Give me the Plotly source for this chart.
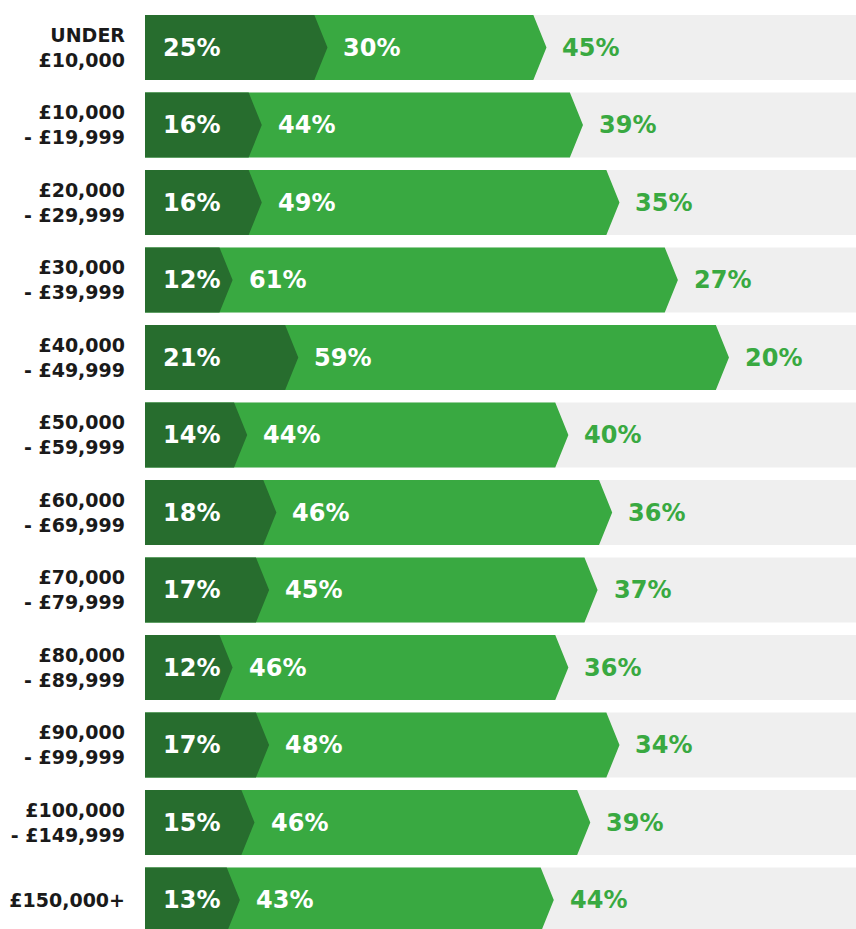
import plotly.graph_objects as go

categories = ["UNDER<br>£10,000", "£10,000<br>- £19,999", "£20,000<br>- £29,999",
              "£30,000<br>- £39,999", "£40,000<br>- £49,999", "£50,000<br>- £59,999",
              "£60,000<br>- £69,999", "£70,000<br>- £79,999", "£80,000<br>- £89,999",
              "£90,000<br>- £99,999", "£100,000<br>- £149,999", "£150,000+"]
dark_vals = [25, 16, 16, 12, 21, 14, 18, 17, 12, 17, 15, 13]
bright_vals = [30, 44, 49, 61, 59, 44, 46, 45, 46, 48, 46, 43]
rest_vals = [45, 39, 35, 27, 20, 40, 36, 37, 36, 34, 39, 44]
full_scale = [100] * len(categories)

DARK = "#276d2e"
BRIGHT = "#39a941"
GREY = "#efefef"
FONT = "DejaVu Sans"

H = 0.42      # half bar height (category units)
D = 1.8       # chevron depth (x units)

def chevrons(starts, ends):
    xs, ys = [], []
    for i, (s, e) in enumerate(zip(starts, ends)):
        xs += [s, e - D, e, e - D, s, s, None]
        ys += [i - H, i - H, i, i + H, i + H, i - H, None]
    return xs, ys

n = len(categories)
ypos = list(range(n))
bright_end = [d + b for d, b in zip(dark_vals, bright_vals)]

fig = go.Figure()
fig.add_trace(go.Bar(y=ypos, x=full_scale, orientation="h", marker=dict(color=GREY, line=dict(width=0)),
                     width=2 * H, hoverinfo="skip", showlegend=False))
bx, by = chevrons([0] * n, bright_end)
fig.add_trace(go.Scatter(x=bx, y=by, fill="toself", fillcolor=BRIGHT, mode="lines",
                         line=dict(width=0, color=BRIGHT), hoverinfo="skip", showlegend=False))
dx, dy = chevrons([0] * n, dark_vals)
fig.add_trace(go.Scatter(x=dx, y=dy, fill="toself", fillcolor=DARK, mode="lines",
                         line=dict(width=0, color=DARK), hoverinfo="skip", showlegend=False))

annotations = []
for i in range(n):
    annotations.append(dict(x=0, y=i, xref="x", yref="y", text=f"<b>{dark_vals[i]}%</b>",
                            showarrow=False, xanchor="left", xshift=16,
                            font=dict(family=FONT, size=24, color="white")))
    annotations.append(dict(x=dark_vals[i], y=i, xref="x", yref="y", text=f"<b>{bright_vals[i]}%</b>",
                            showarrow=False, xanchor="left", xshift=14,
                            font=dict(family=FONT, size=24, color="white")))
    annotations.append(dict(x=bright_end[i], y=i, xref="x", yref="y", text=f"<b>{rest_vals[i]}%</b>",
                            showarrow=False, xanchor="left", xshift=14,
                            font=dict(family=FONT, size=24, color=BRIGHT)))

fig.update_layout(
    width=856, height=929,
    margin=dict(l=145, r=0, t=0, b=0),
    paper_bgcolor="white", plot_bgcolor="white",
    barmode="overlay",
    annotations=annotations,
    xaxis=dict(range=[0, 97.4], visible=False, fixedrange=True),
    yaxis=dict(range=[11.374, -0.613], tickvals=ypos,
               ticktext=[f"<b>{c}</b>" for c in categories],
               showgrid=False, zeroline=False, showline=False, ticks="",
               ticklabelstandoff=19, fixedrange=True,
               tickfont=dict(family=FONT, size=19, color="#1a1a1a")),
)

fig.write_html("out.html", config={"displayModeBar": False},
               post_script="document.body.style.margin='0';document.body.style.overflow='hidden';")
